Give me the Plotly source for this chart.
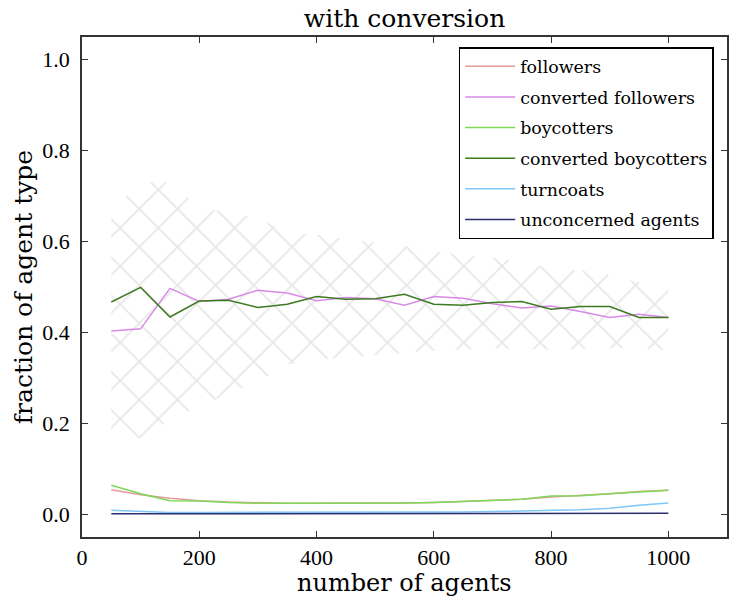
import plotly.graph_objects as go

agents = [50, 100, 150, 200, 250, 300, 350, 400, 450, 500, 550, 600, 650, 700, 750, 800, 850, 900, 950, 1000]

followers = [0.054, 0.043, 0.035, 0.030, 0.027, 0.025, 0.024, 0.024, 0.024, 0.024, 0.025, 0.026, 0.028, 0.030, 0.033, 0.038, 0.041, 0.045, 0.050, 0.053]
converted_followers = [0.403, 0.408, 0.497, 0.468, 0.473, 0.493, 0.487, 0.470, 0.477, 0.474, 0.460, 0.479, 0.475, 0.463, 0.454, 0.458, 0.446, 0.433, 0.440, 0.433]
boycotters = [0.064, 0.045, 0.030, 0.029, 0.026, 0.024, 0.024, 0.024, 0.024, 0.024, 0.025, 0.026, 0.028, 0.030, 0.033, 0.040, 0.041, 0.045, 0.049, 0.053]
converted_boycotters = [0.467, 0.499, 0.434, 0.469, 0.471, 0.455, 0.462, 0.479, 0.473, 0.474, 0.484, 0.462, 0.460, 0.466, 0.468, 0.451, 0.457, 0.457, 0.433, 0.433]
turncoats = [0.009, 0.006, 0.004, 0.004, 0.004, 0.004, 0.004, 0.004, 0.004, 0.004, 0.004, 0.004, 0.005, 0.006, 0.007, 0.009, 0.010, 0.013, 0.020, 0.025]
unconcerned = [0.001, 0.001, 0.001, 0.001, 0.001, 0.001, 0.001, 0.001, 0.001, 0.001, 0.001, 0.001, 0.001, 0.001, 0.001, 0.001, 0.001, 0.002, 0.002, 0.002]

band_upper = [0.67, 0.73, 0.73, 0.676, 0.663, 0.652, 0.62, 0.615, 0.605, 0.597, 0.59, 0.58, 0.57, 0.564, 0.555, 0.54, 0.537, 0.527, 0.51, 0.505]
band_lower = [0.185, 0.167, 0.207, 0.236, 0.266, 0.29, 0.33, 0.34, 0.345, 0.35, 0.355, 0.36, 0.362, 0.365, 0.364, 0.362, 0.363, 0.365, 0.365, 0.36]

series = [
    ("followers", followers, "#e59a98"),
    ("converted followers", converted_followers, "#d98ae6"),
    ("boycotters", boycotters, "#7ed957"),
    ("converted boycotters", converted_boycotters, "#3d7a22"),
    ("turncoats", turncoats, "#80c6f7"),
    ("unconcerned agents", unconcerned, "#2e2e6e"),
]

TEXT_FONT = "DejaVu Serif"
NUM_FONT = "Liberation Serif"

fig = go.Figure()
fig.add_trace(go.Scatter(x=agents, y=band_upper, mode="lines", line=dict(width=0),
                         showlegend=False, hoverinfo="skip"))
fig.add_trace(go.Scatter(x=agents, y=band_lower, mode="lines", line=dict(width=0),
                         fill="tonexty", fillcolor="rgba(0,0,0,0)",
                         fillpattern=dict(shape="x", fgcolor="#cfcfcf", bgcolor="rgba(0,0,0,0)",
                                          size=27, solidity=0.13),
                         showlegend=False, hoverinfo="skip"))

for i, (name, vals, color) in enumerate(series):
    fig.add_trace(go.Scatter(x=agents, y=vals, mode="lines", name=name,
                             line=dict(color=color, width=1.5), legendgroup=str(i)))

axis_common = dict(showline=True, linecolor="#333333", linewidth=1.5, mirror="ticks",
                   ticks="inside", ticklen=6, tickwidth=1, tickcolor="#333333",
                   showgrid=False, zeroline=False, automargin=False,
                   tickfont=dict(family=NUM_FONT, size=22, color="black"))

W, H = 738, 600
L, R, T, B = 82, 11, 37, 63
plot_h = H - T - B

fig.update_layout(
    width=W, height=H,
    margin=dict(l=L, r=R, t=T, b=B),
    plot_bgcolor="white", paper_bgcolor="white",
    title=dict(text="with conversion", x=(L + (W - R)) / 2 / W, xanchor="center",
               y=1 - 18 / H, yanchor="middle", font=dict(family=TEXT_FONT, size=25, color="black")),
    xaxis=dict(range=[0, 1100], tickvals=[0, 200, 400, 600, 800, 1000], **axis_common),
    yaxis=dict(range=[-0.05, 1.05], tickvals=[0.0, 0.2, 0.4, 0.6, 0.8, 1.0], tickformat=".1f",
               ticklabelstandoff=6,
               title=dict(text="fraction of agent type", font=dict(family=TEXT_FONT, size=25, color="black"), standoff=3),
               **axis_common),
    legend=dict(x=0.584, y=0.98, xanchor="left", yanchor="top",
                bordercolor="black", borderwidth=1.5, bgcolor="white",
                font=dict(family=TEXT_FONT, size=17.4, color="black"),
                traceorder="grouped", tracegroupgap=5, itemwidth=50),
    showlegend=True,
    annotations=[dict(text="number of agents", xref="paper", yref="paper", x=0.5, y=-46 / plot_h,
                      xanchor="center", yanchor="middle", showarrow=False,
                      font=dict(family=TEXT_FONT, size=24, color="black"))],
)

fig.write_html("out.html", config={"displayModeBar": False},
               post_script="document.body.style.margin='0px';")
